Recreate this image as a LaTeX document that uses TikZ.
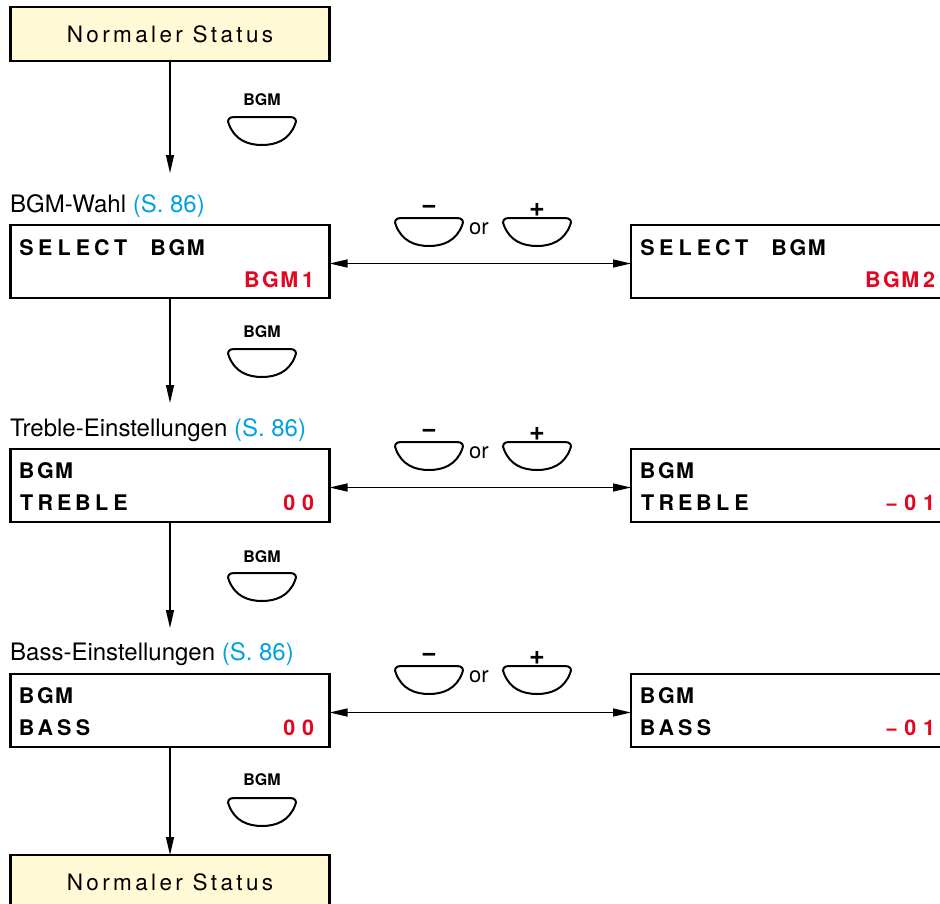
\documentclass[tikz,border=0pt]{standalone}
\usepackage{fontspec}
\setmainfont{TeX Gyre Heros}
\usetikzlibrary{arrows.meta}
\definecolor{lcdred}{RGB}{227,6,33}
\definecolor{refblue}{RGB}{0,160,226}
\definecolor{statusfill}{RGB}{255,249,214}

\newlength\lcdp \setlength\lcdp{18.8pt}
\def\lcdloop#1{\ifx#1\relax\else\makebox[\lcdp]{#1}\expandafter\lcdloop\fi}
\newcommand\lcd[1]{\lcdloop#1\relax}

\tikzset{
  statusbox/.style={draw, line width=2.3pt, fill=statusfill, minimum width=319pt,
    minimum height=54pt, inner sep=0pt, outer sep=0pt, anchor=north west,
    font=\fontsize{22.5}{26}\selectfont\addfontfeatures{LetterSpace=15}},
  lcdbox/.style={draw, line width=2.3pt, fill=white, minimum width=319pt,
    minimum height=73pt, inner sep=0pt, outer sep=0pt, anchor=north west},
  lcdtxt/.style={inner sep=0pt, font=\fontsize{21.5}{24}\selectfont\bfseries},
  lbl/.style={inner sep=0pt, anchor=base west, font=\fontsize{24}{27}\selectfont},
  btnlbl/.style={inner sep=0pt, font=\fontsize{16}{18}\selectfont\bfseries},
  pmlbl/.style={inner sep=0pt, anchor=base, font=\fontsize{27}{30}\selectfont\bfseries},
  orlbl/.style={inner sep=0pt, anchor=base, font=\fontsize{22}{24}\selectfont},
  varrow/.style={line width=1.3pt, -{Triangle[length=18pt,width=8pt]}},
  darrow/.style={line width=1.3pt, {Triangle[length=18pt,width=8pt]}-{Triangle[length=18pt,width=8pt]}},
  btn/.pic={\draw[line width=2pt, line join=round] (-28,0) -- (28,0)
     .. controls (33,0) and (35.5,3) .. (33,7.5)
     .. controls (27,23) and (14,28) .. (0,28)
     .. controls (-14,28) and (-27,23) .. (-33,7.5)
     .. controls (-35.5,3) and (-33,0) .. (-28,0) -- cycle;}
}

\begin{document}
\begin{tikzpicture}[x=1pt,y=-1pt]
\useasboundingbox (0,0) rectangle (940,903);
\clip (0,0) rectangle (940,903);

% top status
\node[statusbox] (top) at (10.5,7) {Normaler Status};
\node[btnlbl] (b0) at (262,100) {BGM};
\pic at (262,117) {btn};
\coordinate (t0) at (170,173);
\draw[varrow] (top.south) -- (t0);

% ---------- section 1 ----------
\node[lbl] (l1) at (10,212) {BGM-Wahl \textcolor{refblue}{(S. 86)}};
\node[lcdbox] (s1) at (10.5,225) {};
\node[lcdbox] (r1) at (631,225) {};
\node[lcdtxt, anchor=base west] (s1a) at (17,255) {\lcd{SELECT~BGM}};
\node[lcdtxt, anchor=base east, text=lcdred] (s1b) at (317.8,287) {\lcd{BGM1}};
\node[lcdtxt, anchor=base west] (r1a) at (638,255) {\lcd{SELECT~BGM}};
\node[lcdtxt, anchor=base east, text=lcdred] (r1b) at (938.8,287) {\lcd{BGM2}};
\draw[darrow] ([yshift=-2pt]s1.east) -- ([yshift=-2pt]r1.west);
\node[pmlbl] (m1) at (429,213) {−};
\pic at (429,218) {btn};
\node[orlbl] (o1) at (479,234) {or};
\node[pmlbl] (p1) at (537,216) {+};
\pic at (537,218) {btn};
\node[btnlbl] (b1) at (262,332) {BGM};
\pic at (262,349) {btn};
\coordinate (t1) at (170,403);
\draw[varrow] (s1.south) -- (t1);

% ---------- section 2 ----------
\node[lbl] (l2) at (10,436) {Treble-Einstellungen \textcolor{refblue}{(S. 86)}};
\node[lcdbox] (s2) at (10.5,449) {};
\node[lcdbox] (r2) at (631,449) {};
\node[lcdtxt, anchor=base west] (s2a) at (17,478) {\lcd{BGM}};
\node[lcdtxt, anchor=base west] (s2b) at (17,510) {\lcd{TREBLE}};
\node[lcdtxt, anchor=base east, text=lcdred] (s2c) at (317.8,510) {\lcd{00}};
\node[lcdtxt, anchor=base west] (r2a) at (638,478) {\lcd{BGM}};
\node[lcdtxt, anchor=base west] (r2b) at (638,510) {\lcd{TREBLE}};
\node[lcdtxt, anchor=base east, text=lcdred] (r2c) at (938.8,510) {\lcd{−01}};
\draw[darrow] ([yshift=-2pt]s2.east) -- ([yshift=-2pt]r2.west);
\node[pmlbl] (m2) at (429,437) {−};
\pic at (429,442) {btn};
\node[orlbl] (o2) at (479,458) {or};
\node[pmlbl] (p2) at (537,440) {+};
\pic at (537,442) {btn};
\node[btnlbl] (b2) at (262,557) {BGM};
\pic at (262,573) {btn};
\coordinate (t2) at (170,628);
\draw[varrow] (s2.south) -- (t2);

% ---------- section 3 ----------
\node[lbl] (l3) at (10,660) {Bass-Einstellungen \textcolor{refblue}{(S. 86)}};
\node[lcdbox] (s3) at (10.5,674) {};
\node[lcdbox] (r3) at (631,674) {};
\node[lcdtxt, anchor=base west] (s3a) at (17,703) {\lcd{BGM}};
\node[lcdtxt, anchor=base west] (s3b) at (17,735) {\lcd{BASS}};
\node[lcdtxt, anchor=base east, text=lcdred] (s3c) at (317.8,735) {\lcd{00}};
\node[lcdtxt, anchor=base west] (r3a) at (638,703) {\lcd{BGM}};
\node[lcdtxt, anchor=base west] (r3b) at (638,735) {\lcd{BASS}};
\node[lcdtxt, anchor=base east, text=lcdred] (r3c) at (938.8,735) {\lcd{−01}};
\draw[darrow] ([yshift=-2pt]s3.east) -- ([yshift=-2pt]r3.west);
\node[pmlbl] (m3) at (429,661) {−};
\pic at (429,666) {btn};
\node[orlbl] (o3) at (479,682) {or};
\node[pmlbl] (p3) at (537,664) {+};
\pic at (537,666) {btn};
\node[btnlbl] (b3) at (262,780) {BGM};
\pic at (262,798) {btn};

% bottom status
\node[statusbox] (bot) at (10.5,855) {Normaler Status};
\draw[varrow] (s3.south) -- (bot.north);
\end{tikzpicture}
\end{document}
